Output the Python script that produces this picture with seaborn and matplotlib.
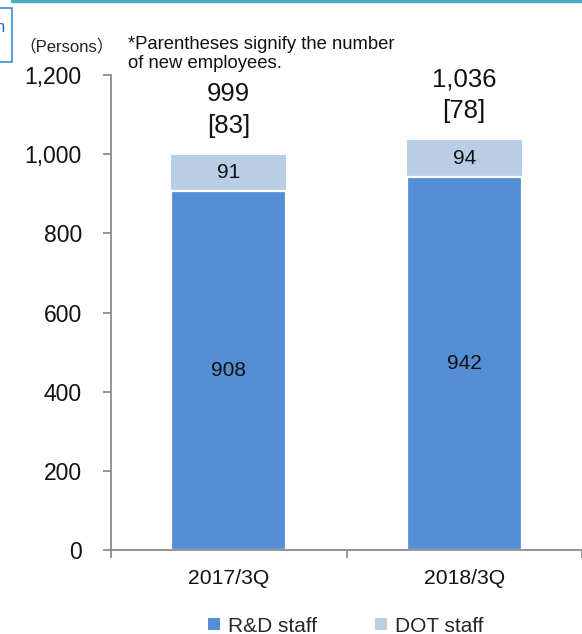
import matplotlib
matplotlib.use("Agg")
import matplotlib.pyplot as plt
from matplotlib.patches import Patch, Rectangle
from matplotlib.lines import Line2D
import seaborn as sns
import pandas as pd

# Headcount by period
periods = ["2017/3Q", "2018/3Q"]
rd_staff = [908, 942]
dot_staff = [91, 94]
new_employees = [83, 78]
totals = [r + d for r, d in zip(rd_staff, dot_staff)]
y_ticks = [0, 200, 400, 600, 800, 1000, 1200]

RD_COLOR = "#558ED5"
DOT_COLOR = "#B9CDE5"
AXIS_GRAY = "#8C8C8C"

sns.set_theme(style="white")
plt.rcParams["font.family"] = ["Liberation Sans", "Noto Sans CJK JP", "DejaVu Sans"]

df = pd.DataFrame({"period": periods, "rd": rd_staff, "dot": dot_staff, "total": totals})

fig = plt.figure(figsize=(5.82, 6.34), dpi=100)
W, H = 582, 634
ax = fig.add_axes([111 / W, 84 / H, 1 - 111 / W, (550 - 75) / H])

# Stack: full height in DOT colour, R&D portion drawn over it
sns.barplot(data=df, x="period", y="total", order=periods, color=DOT_COLOR,
            width=0.49, saturation=1, ax=ax, edgecolor="none")
sns.barplot(data=df, x="period", y="rd", order=periods, color=RD_COLOR,
            width=0.49, saturation=1, ax=ax, edgecolor="white", linewidth=1.6)

ax.set_ylim(0, 1200)
ax.set_xlim(-0.5, -0.5 + (W - 111) / 243)
ax.set_xlabel("")
ax.set_ylabel("")

ax.set_yticks(y_ticks)
ax.set_yticklabels([f"{v:,}" for v in y_ticks], fontsize=16.5)
ax.tick_params(axis="y", direction="out", length=6, width=1.3, color=AXIS_GRAY,
               pad=15, left=True, labelcolor="#111111")

# Category labels centred, boundary ticks between categories
ax.set_xticks([-0.5, 0.5, 1.5])
ax.set_xticklabels(["", "", ""])
ax.tick_params(axis="x", which="major", direction="out", length=6, width=1.3,
               color=AXIS_GRAY, bottom=True)
ax.set_xticks([0, 1], minor=True)
ax.set_xticklabels(periods, minor=True, fontsize=15.2)
ax.tick_params(axis="x", which="minor", length=0, pad=14, labelcolor="#111111")

for side in ["top", "right"]:
    ax.spines[side].set_visible(False)
for side in ["left", "bottom"]:
    ax.spines[side].set_color(AXIS_GRAY)
    ax.spines[side].set_linewidth(1.3)
ax.grid(False)

# Segment and total labels
for i in range(len(periods)):
    ax.text(i, rd_staff[i] / 2, f"{rd_staff[i]}", ha="center", va="center", fontsize=15, color="#111111")
    ax.text(i, rd_staff[i] + dot_staff[i] / 2, f"{dot_staff[i]}", ha="center", va="center",
            fontsize=15, color="#111111")
    ax.annotate(f"[{new_employees[i]}]", (i, totals[i]), xytext=(0, 20.5), textcoords="offset points",
                ha="center", va="center", fontsize=18.5, color="#111111")
    ax.annotate(f"{totals[i]:,}", (i, totals[i]), xytext=(0, 43.5), textcoords="offset points",
                ha="center", va="center", fontsize=18.5, color="#111111")

fig.text(19 / W, 1 - 46 / H, "（Persons）", fontsize=12, ha="left", va="center", color="#222222")
fig.text(128 / W, 1 - 54 / H, "*Parentheses signify the number\nof new employees.",
         fontsize=13.3, ha="left", va="center", linespacing=1.2, color="#111111")

# Header band and corner tab
fig.add_artist(Line2D([12 / W, 1], [1 - 1 / H, 1 - 1 / H], transform=fig.transFigure,
                      color="#4BACC6", linewidth=2.5))
fig.add_artist(Rectangle((-0.01, 1 - 62 / H), 12 / W + 0.01, 54 / H, transform=fig.transFigure,
                         facecolor="white", edgecolor="#3D8FD1", linewidth=1.2))
fig.text(5 / W, 1 - 27 / H, "n", fontsize=12, ha="right", va="center", color="#1F6FC0")

handles = [Patch(facecolor=RD_COLOR, edgecolor="none", label="R&D staff"),
           Patch(facecolor=DOT_COLOR, edgecolor="none", label="DOT staff")]
fig.legend(handles=handles, loc="center", bbox_to_anchor=(346 / W, 8 / H), ncol=2,
           frameon=False, fontsize=15, handlelength=0.55, handleheight=0.55,
           handletextpad=0.4, columnspacing=2.8, borderaxespad=0)

fig.savefig("out.png", dpi=100)
